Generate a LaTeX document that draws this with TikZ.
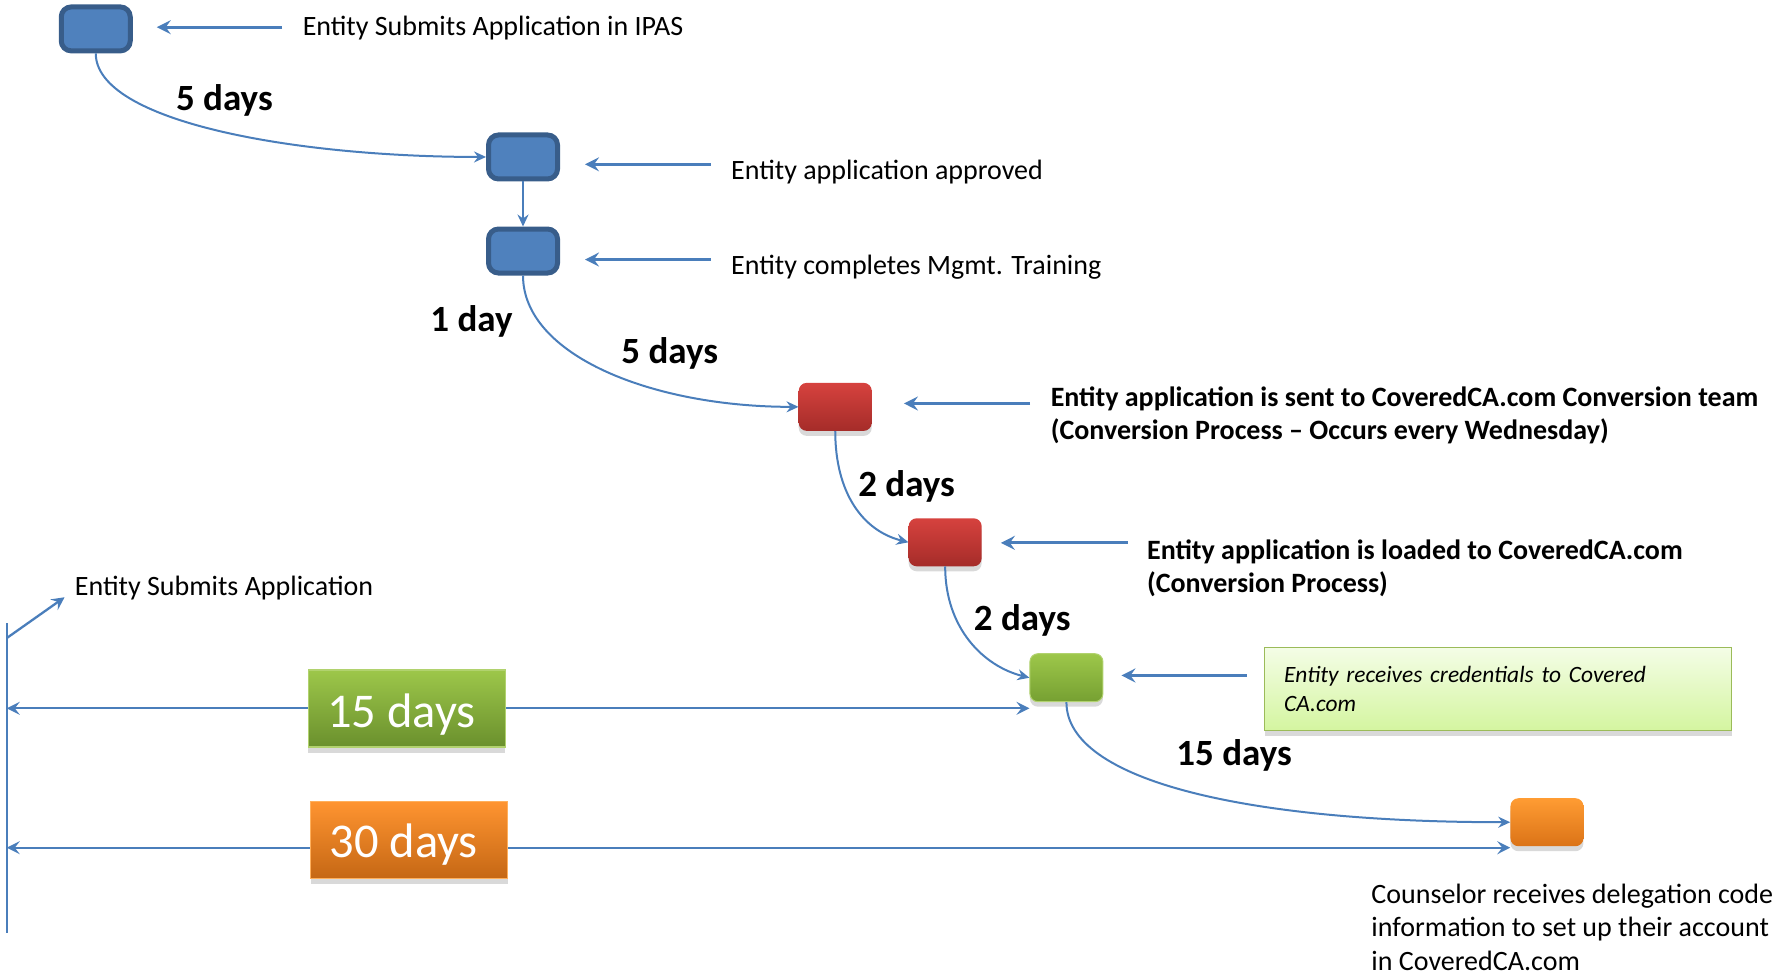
\documentclass[tikz,border=0pt]{standalone}
\usepackage{fontspec}
\setmainfont{Carlito}
\usetikzlibrary{arrows.meta,shadows,backgrounds}
\definecolor{lineblue}{HTML}{4A7EBB}
\definecolor{boxblue}{HTML}{4F81BD}
\definecolor{boxblueb}{HTML}{385D8A}
\definecolor{redtop}{HTML}{D6423E}
\definecolor{redbot}{HTML}{A52C29}
\definecolor{greentop}{HTML}{9DC74A}
\definecolor{greenbot}{HTML}{76A032}
\definecolor{orangetop}{HTML}{FF9C33}
\definecolor{orangebot}{HTML}{DB7317}
\definecolor{notetop}{HTML}{F4FDE6}
\definecolor{notebot}{HTML}{D4F5A0}
\definecolor{noteborder}{HTML}{9BBB59}
\tikzset{
  bluebox/.style={draw=boxblueb, fill=boxblue, line width=5pt, rounded corners=10pt,
    minimum width=69pt, minimum height=44pt, inner sep=0pt},
  shadebox/.style={rounded corners=8pt, minimum width=73pt, minimum height=48pt, inner sep=0pt,
    drop shadow={shadow xshift=0pt, shadow yshift=-5pt, opacity=0.3}},
  redbox/.style={shadebox, top color=redtop, bottom color=redbot},
  greenbox/.style={shadebox, top color=greentop, bottom color=greenbot, draw=greentop!80!white, line width=1pt},
  orangebox/.style={shadebox, top color=orangetop, bottom color=orangebot},
  plain/.style={font=\fontsize{28}{33.5}\selectfont, inner sep=0pt, anchor=west},
  boldtxt/.style={font=\fontsize{28}{33.5}\selectfont\bfseries, inner sep=0pt, anchor=west, align=left},
  daylabel/.style={font=\fontsize{37}{44}\selectfont\bfseries, inner sep=0pt},
  conn/.style={draw=lineblue, line width=2pt, -{Stealth[length=12pt,width=11pt,inset=4pt]}},
  ptr/.style={draw=lineblue, line width=2.8pt, -{Stealth[length=14pt,width=14pt,inset=5pt]}},
  tline/.style={draw=lineblue, line width=2.3pt},
  tarrow/.style={tline, {Stealth[length=13pt,width=13pt,inset=5pt]}-{Stealth[length=13pt,width=13pt,inset=5pt]}},
  bigbox/.style={minimum width=197pt, minimum height=77pt, inner sep=0pt, text=white,
    font=\fontsize{48.5}{56}\selectfont, draw=#1!80!white, line width=1.5pt,
    drop shadow={shadow xshift=0pt, shadow yshift=-6pt, opacity=0.3}},
}
\begin{document}
\begin{tikzpicture}[x=1.1333pt, y=-1.1333pt]
\useasboundingbox (0,0) rectangle (1568,858.6);

% process boxes
\node[bluebox] (b1) at (84.5,25.5) {};
\node[bluebox] (b2) at (461.5,138.5) {};
\node[bluebox] (b3) at (461.5,221.5) {};
\node[redbox] (r1) at (737,359) {};
\node[redbox] (r2) at (834,478.5) {};
\node[greenbox] (g) at (941,598) {};
\node[orangebox] (o) at (1365,725.5) {};

% descriptions
\node[plain] (t1) at (267,25) {Entity Submits Application in IPAS};
\node[plain] (t2) at (645,152) {Entity application approved};
\node[plain] (t3) at (645,236) {Entity completes Mgmt. Training};
\node[boldtxt] (t4) at (927,366.5) {Entity application is sent to CoveredCA.com Conversion team\\(Conversion Process -- Occurs every Wednesday)};
\node[boldtxt] (t5) at (1012,501.5) {Entity application is loaded to CoveredCA.com\\(Conversion Process)};
\node[draw=noteborder, line width=1.5pt, top color=notetop, bottom color=notebot,
  minimum width=467pt, minimum height=77pt, text width=428pt, inner sep=19pt, align=left,
  font=\fontsize{23.4}{28.5}\selectfont\itshape,
  drop shadow={shadow xshift=0pt, shadow yshift=-5pt, opacity=0.3}] (note) at (1322,608)
  {Entity receives credentials to Covered\\CA.com};
\node[plain, align=left] (t7) at (1210,818) {Counselor receives delegation code\\information to set up their account\\in CoveredCA.com};
\node[plain] (t8) at (66,519) {Entity Submits Application};

% pointer arrows
\coordinate (p1) at (249,24);
\coordinate (p2) at (627,145);
\coordinate (p3) at (627,229);
\coordinate (p4) at (909,356);
\coordinate (p5) at (995,479);
\coordinate (p6) at (1100,596);
\draw[ptr, shorten >=24pt] (p1) -- (p1 -| b1.east);
\draw[ptr, shorten >=25pt] (p2) -- (p2 -| b2.east);
\draw[ptr, shorten >=25pt] (p3) -- (p3 -| b3.east);
\draw[ptr, shorten >=32pt] (p4) -- (p4 -| r1.east);
\draw[ptr, shorten >=19pt] (p5) -- (p5 -| r2.east);
\draw[ptr, shorten >=18pt] (p6) -- (p6 -| g.east);

% flow connectors
\draw[conn] (b1.south) .. controls +(0,60) and +(-170,0) .. (b2.west);
\draw[conn] (b2.south) -- (b3.north);
\draw[conn] (b3.south) .. controls +(0,70) and +(-130,0) .. (r1.west);
\draw[conn] (r1.south) .. controls +(0,55) and +(-40,-10) .. (r2.west);
\draw[conn] (r2.south) .. controls +(0,55) and +(-40,-10) .. (g.west);
\draw[conn] (g.south) .. controls +(0,70) and +(-230,0) .. (o.west);

% day labels
\node[daylabel] (d1) at (198,89) {5 days};
\node[daylabel] (d2) at (416,284) {1 day};
\node[daylabel] (d3) at (591,312) {5 days};
\node[daylabel] (d4) at (800,429.5) {2 days};
\node[daylabel] (d5) at (902,547.5) {2 days};
\node[daylabel] (d6) at (1089,666.5) {15 days};

% timeline
\node[bigbox=greentop, top color=greentop, bottom color=greenbot!90!black] (n15) at (359,625) {\raisebox{-6pt}[\height][\depth]{15 days}\hspace*{11pt}};
\node[bigbox=orangetop, top color=orangetop!95!red, bottom color=orangebot!90!black] (n30) at (361,741) {\raisebox{-4.5pt}[\height][\depth]{30 days}\hspace*{11pt}};
\coordinate (vtop) at (6,550);
\coordinate (vbot) at (6,823);
\coordinate (dstart) at (6,563);
\coordinate (dend) at (57,527);
\coordinate (l15) at (6,625);
\coordinate (l30) at (6,748);
\begin{pgfonlayer}{background}
\draw[tline] (vtop) -- (vbot);
\draw[tline, -{Stealth[length=13pt,width=13pt,inset=5pt]}] (dstart) -- (dend);
\draw[tarrow] (l15) -- (l15 -| g.west);
\draw[tarrow] (l30) -- (l30 -| o.west);
\end{pgfonlayer}
\end{tikzpicture}
\end{document}
